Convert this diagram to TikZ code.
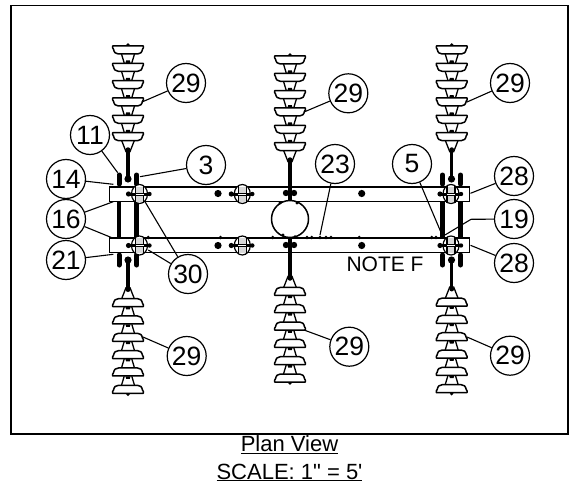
\documentclass[tikz,border=0pt]{standalone}
\usepackage{xcolor}
\usepackage{fontspec}
\setmainfont{Liberation Sans}
\newfontfamily\plainsans{Liberation Sans}
\usepackage{tikz}

\tikzset{
    insulator/.pic={
        % sockets between the discs
        \foreach \d in {0,1,2,3,4} {
            \draw[line width=1.3pt, shift={(0,\d*17.33)}] (-6.8,7) -- (-3.8,17) (3.8,17) -- (6.8,7);
            \fill[shift={(0,\d*17.33)}] (-2.6,17) -- (-1.8,14.5) -- (1.8,14.5) -- (2.6,17) -- cycle;
        }
        \draw[line width=1.3pt, shift={(0,86.65)}] (-6.3,8) -- (-2,19) -- (2,19) -- (6.3,8);
        \fill[shift={(0,86.65)}] (0,17) circle (2.4pt);
        \fill (0,-1) circle (1.8pt);
        % discs
        \foreach \d in {0,1,2,3,4,5} {
            \draw[line width=1.5pt, line join=round, fill=white, shift={(0,\d*17.33)}]
                (-15.3,0) -- (15.3,0) -- (15.3,2) -- (14.6,3) .. controls (13.8,6.5) and (12.5,8) .. (9.5,8)
                -- (-9.5,8) .. controls (-12.5,8) and (-13.8,6.5) .. (-14.6,3) -- (-15.3,2) -- cycle;
        }
    },
    clamp/.pic={
        \draw[line width=1.2pt, fill=white] (0,0) ellipse (8pt and 9.5pt);
        \fill[gray!30] (-4,-7.5) rectangle (4,7.5);
        \draw[line width=1.3pt] (-4,-8.5) -- (-4,8.5);
        \draw[line width=1.3pt] (4,-8.5) -- (4,8.5);
        \draw[line width=3pt] (-11,0) -- (10,0);
        \draw[white, line width=.8pt] (-4,0) -- (4,0);
        \fill (-11,0) circle (2.6pt);
        \fill (10,0) circle (2.2pt);
    }
}

\begin{document}
\begin{tikzpicture}[
    x=1pt, y=-1pt,
    callout/.style={circle, draw, line width=1.2pt, minimum size=39pt, inner sep=0pt, font=\fontsize{26.5}{26.5}\selectfont},
    leader/.style={line width=1.1pt},
    beam/.style={rectangle, draw, line width=1.5pt, fill=white, minimum width=360pt, minimum height=14.5pt, inner sep=0pt},
    pole/.style={circle, draw, line width=1.5pt, fill=white, minimum size=37pt, inner sep=0pt},
    brace/.style={line width=4.5pt},
    lug/.style={line width=5pt, line cap=round},
    rod/.style={line width=3.5pt},
    caption/.style={font=\fontsize{22}{24}\plainsans\selectfont, inner sep=0pt}
]

\useasboundingbox (0,0) rectangle (577,484);
\draw[line width=1.5pt] (11,5.5) rectangle (568,434);

% crossarms and pole
\draw[brace] (119,201) -- (119,238);
\draw[brace] (136.7,201) -- (136.7,238);
\draw[brace] (442.5,201) -- (442.5,238);
\draw[brace] (460.5,201) -- (460.5,238);
\node[beam] (upperarm) at (289.7,194) {};
\node[beam] (lowerarm) at (289.7,245.2) {};
\node[pole] (pole) at (290,219) {};

% hangers above and below the arms
\foreach \x in {119,136.7,442.5,460.5} {
    \draw[lug] (\x,175) -- (\x,184);
    \draw[lug] (\x,255) -- (\x,265);
}
\foreach \x in {128,451.5} {
    \draw[rod] (\x,150) -- (\x,178);
    \fill (\x,179) circle (3.6pt);
    \draw[rod] (\x,261) -- (\x,289);
    \fill (\x,260) circle (3.6pt);
}
\draw[rod] (290,158) -- (290,201);
\draw[rod] (290,238) -- (290,280);
\foreach \y in {193,245} {
    \fill (286,\y) circle (3.2pt);
    \fill (294,\y) circle (3.2pt);
}
\foreach \x/\y in {280/203,297/203,283/235,295/236.7} {
    \fill (\x,\y) circle (1.6pt);
}

% bolts on the arms
\foreach \x in {218,361.7} {
    \fill (\x,193.5) circle (3.6pt);
    \fill (\x,245.5) circle (3.6pt);
}
\foreach \x in {148.3,220.5,272.7,307,311.7,320,326,331,359.3,431.7,436} {
    \fill (\x,237.5) circle (1.9pt);
}

% clamps
\foreach \x in {139.5,242.3,451} {
    \pic at (\x,194) {clamp};
    \pic at (\x,245.5) {clamp};
}

% insulator strings
\pic at (128,46) {insulator};
\pic at (290,56) {insulator};
\pic at (451.7,46) {insulator};
\pic[yscale=-1] at (128,393.3) {insulator};
\pic[yscale=-1] at (290,382) {insulator};
\pic[yscale=-1] at (451.7,392.7) {insulator};

% callouts
\node[callout] (n29a) at (186,83) {29};
\node[callout] (n29b) at (348.3,93.3) {29};
\node[callout] (n29c) at (510,83) {29};
\node[callout] (n29d) at (186.7,356) {29};
\node[callout] (n29e) at (349.3,346.7) {29};
\node[callout] (n29f) at (510,355.7) {29};
\node[callout] (n11) at (90,135) {11};
\node[callout] (n14) at (66,179) {14};
\node[callout] (n3) at (206,165) {3};
\node[callout] (n16) at (66,219) {16};
\node[callout] (n21) at (66,260) {21};
\node[callout] (n30) at (188,274) {30};
\node[callout] (n23) at (335,164) {23};
\node[callout] (n5) at (412,164) {5};
\node[callout] (n28a) at (514,176) {28};
\node[callout] (n19) at (514,219) {19};
\node[callout] (n28b) at (514,263) {28};

% leader ends
\coordinate (e29a) at (142,102);
\coordinate (e29b) at (304,112);
\coordinate (e29c) at (467,102);
\coordinate (e29d) at (143,337);
\coordinate (e29e) at (304,330);
\coordinate (e29f) at (467,337);
\coordinate (e11) at (117.7,172.7);
\coordinate (e14) at (113.3,184.3);
\coordinate (e3) at (140,176.7);
\coordinate (e16a) at (113.3,201.7);
\coordinate (e16b) at (113.3,238.3);
\coordinate (e21) at (113.3,254.3);
\coordinate (e30a) at (145,201.7);
\coordinate (e30b) at (148.3,250);
\coordinate (e23) at (320,235);
\coordinate (e5) at (440.7,231.7);
\coordinate (e28a) at (470.5,193.3);
\coordinate (b19) at (471,219.3);
\coordinate (e19) at (445,235);
\coordinate (e28b) at (470.5,245.3);

\draw[leader] (n29a) -- (e29a);
\draw[leader] (n29b) -- (e29b);
\draw[leader] (n29c) -- (e29c);
\draw[leader] (n29d) -- (e29d);
\draw[leader] (n29e) -- (e29e);
\draw[leader] (n29f) -- (e29f);
\draw[leader] (n11) -- (e11);
\draw[leader] (n14) -- (e14);
\draw[leader] (n3) -- (e3);
\draw[leader] (n16) -- (e16a);
\draw[leader] (n16) -- (e16b);
\draw[leader] (n21) -- (e21);
\draw[leader] (n30) -- (e30a);
\draw[leader] (n30) -- (e30b);
\draw[leader] (n23) -- (e23);
\draw[leader] (n5) -- (e5);
\draw[leader] (n28a) -- (e28a);
\draw[leader] (n19) -- (b19) -- (e19);
\draw[leader] (n28b) -- (e28b);

% texts
\node[font=\fontsize{21}{21}\selectfont, inner sep=0pt] (notef) at (385,264) {NOTE F};
\node[caption, anchor=base] (planview) at (289.5,451.7) {\underline{Plan View}};
\node[caption, anchor=base] (planscale) at (289.5,479) {\underline{SCALE: 1" = 5'}};

\end{tikzpicture}
\end{document}
